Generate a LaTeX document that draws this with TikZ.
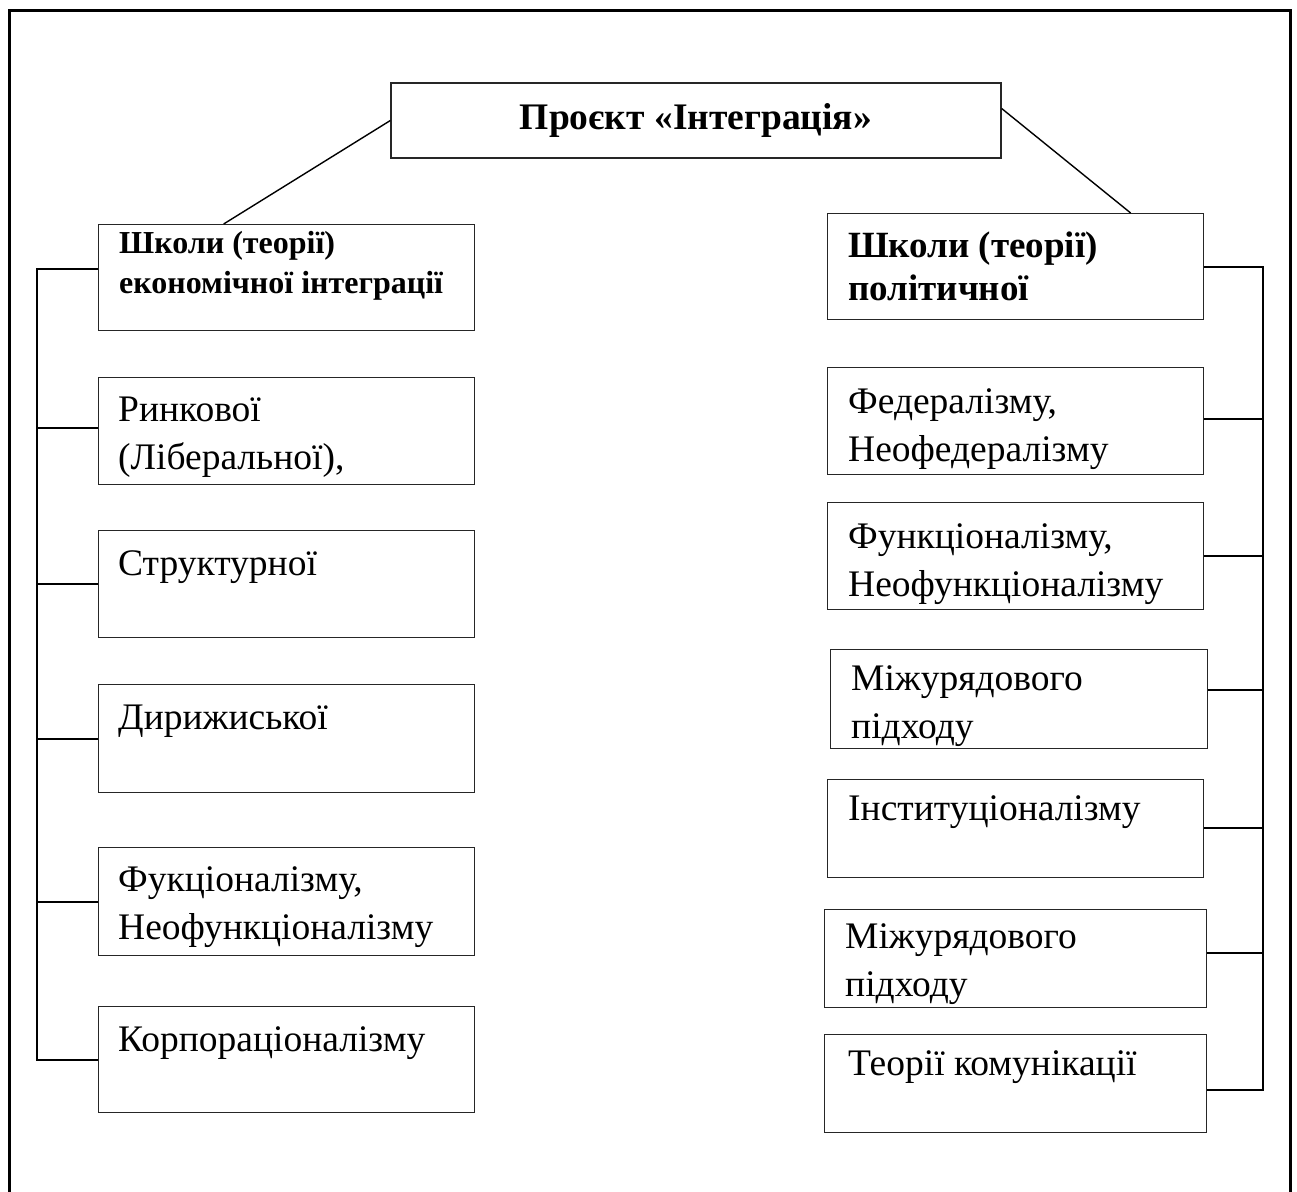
\documentclass[tikz,border=0pt]{standalone}
\usepackage{fontspec}
\setmainfont{Liberation Serif}
\usetikzlibrary{calc}

\tikzset{
  cell/.style={draw=black!85, line width=1.3pt, inner sep=0pt, anchor=north west},
  conn/.style={draw=black, line width=1.8pt},
  frame/.style={draw=black, line width=3pt},
  item/.style={inner sep=0pt, anchor=base west, align=left,
               font=\fontsize{37.5}{48}\selectfont},
  heada/.style={inner sep=0pt, anchor=base west, align=left,
               font=\fontsize{32}{40}\selectfont\bfseries},
  headb/.style={inner sep=0pt, anchor=base west, align=left,
               font=\fontsize{37}{43}\selectfont\bfseries},
}

\begin{document}
\begin{tikzpicture}[x=1pt, y=-1pt]
  \useasboundingbox (0,0) rectangle (1297,1191);

  % open outer frame
  \draw[frame] (9,1195) -- (9,10) -- (1290,10) -- (1290,1195);

  % root
  \node[cell, anchor=center, minimum width=610, minimum height=75,
        font=\fontsize{37.5}{42}\selectfont\bfseries] (root) at (696,120.5)
        {Проєкт «Інтеграція»};

  % left branch: economic integration (two-line texts are anchored at their last baseline)
  \node[cell, minimum width=376, minimum height=106] (econ) at (98,224) {};
  \node[heada] (econT) at ([xshift=21, yshift=-69]econ.north west)
        {Школи (теорії)\\економічної інтеграції};

  \node[cell, minimum width=376, minimum height=107] (l1) at (98,377) {};
  \node[item] (l1T) at ([xshift=20, yshift=-92]l1.north west) {Ринкової\\(Ліберальної),};
  \node[cell, minimum width=376, minimum height=107] (l2) at (98,530) {};
  \node[item] (l2T) at ([xshift=20, yshift=-45]l2.north west) {Структурної};
  \node[cell, minimum width=376, minimum height=108] (l3) at (98,684) {};
  \node[item] (l3T) at ([xshift=20, yshift=-45]l3.north west) {Дирижиської};
  \node[cell, minimum width=376, minimum height=108] (l4) at (98,847) {};
  \node[item] (l4T) at ([xshift=20, yshift=-92]l4.north west) {Фукціоналізму,\\Неофункціоналізму};
  \node[cell, minimum width=376, minimum height=106] (l5) at (98,1006) {};
  \node[item] (l5T) at ([xshift=20, yshift=-45]l5.north west) {Корпораціоналізму};

  % right branch: political integration
  \node[cell, minimum width=376, minimum height=106] (pol) at (827,213) {};
  \node[headb] (polT) at ([xshift=21, yshift=-87]pol.north west)
        {Школи (теорії)\\політичної};

  \node[cell, minimum width=376, minimum height=107] (r1) at (827,367) {};
  \node[item] (r1T) at ([xshift=21, yshift=-94]r1.north west) {Федералізму,\\Неофедералізму};
  \node[cell, minimum width=376, minimum height=107] (r2) at (827,502) {};
  \node[item] (r2T) at ([xshift=21, yshift=-94]r2.north west) {Функціоналізму,\\Неофункціоналізму};
  \node[cell, minimum width=377, minimum height=99] (r3) at (830,649) {};
  \node[item] (r3T) at ([xshift=21, yshift=-89]r3.north west) {Міжурядового\\підходу};
  \node[cell, minimum width=376, minimum height=98] (r4) at (827,779) {};
  \node[item] (r4T) at ([xshift=21, yshift=-41]r4.north west) {Інституціоналізму};
  \node[cell, minimum width=382, minimum height=98] (r5) at (824,909) {};
  \node[item] (r5T) at ([xshift=21, yshift=-87]r5.north west) {Міжурядового\\підходу};
  \node[cell, minimum width=382, minimum height=98] (r6) at (824,1034) {};
  \node[item] (r6T) at ([xshift=24, yshift=-41]r6.north west) {Теорії комунікації};

  % trunk positions and attachment points
  \coordinate (lt) at (37,0);
  \coordinate (rt) at (1263,0);
  \coordinate (econA) at ([yshift=9]econ.west);
  \coordinate (r6A) at ([yshift=-6]r6.east);

  % root to the two school boxes
  \draw[conn, line width=1.4pt] (root.west) -- ([xshift=-63]econ.north);
  \draw[conn, line width=1.4pt] ([yshift=12]root.east) -- ([xshift=115]pol.north);

  % left trunk and branches
  \draw[conn] (econA) -| (lt |- l5.west) -- (l5.west);
  \foreach \n/\dy in {l1/3, l2/0, l3/0, l4/0}
    \draw[conn] ([yshift=\dy]\n.west) -- ([yshift=\dy]\n.west -| lt);

  % right trunk and branches
  \draw[conn] (pol.east) -| (rt |- r6A) -- (r6A);
  \foreach \n/\dy in {r1/2, r2/0, r3/9, r4/1, r5/6}
    \draw[conn] ([yshift=\dy]\n.east) -- ([yshift=\dy]\n.east -| rt);
\end{tikzpicture}
\end{document}
